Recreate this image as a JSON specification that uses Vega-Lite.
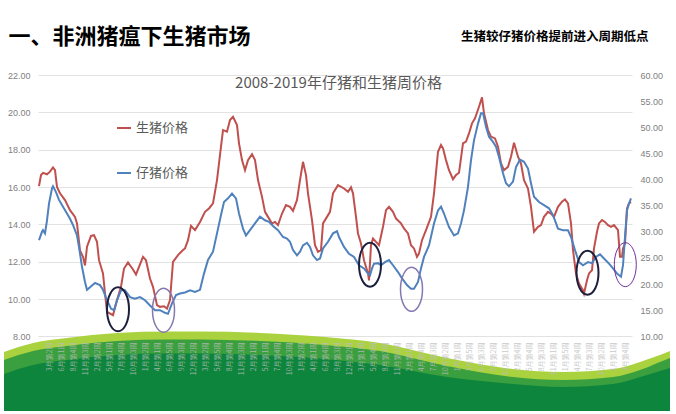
{
  "$schema": "https://vega.github.io/schema/vega-lite/v6.json",
  "width": 594,
  "height": 336,
  "autosize": "none",
  "padding": {"left": 38, "top": 75, "right": 44, "bottom": 3},
  "background": "white",
  "config": {"view": {"stroke": null}, "font": "Noto Sans CJK SC"},
  "datasets": {
    "hog": [
      {"周":1,"价格":16.05},{"周":3,"价格":16.64},{"周":5,"价格":16.76},{"周":9,"价格":16.68},{"周":12,"价格":16.82},{"周":15,"价格":17.05},{"周":17,"价格":16.9},{"周":19,"价格":16.0},{"周":22,"价格":15.66},{"周":27,"价格":15.3},
      {"周":32,"价格":14.76},{"周":37,"价格":14.4},{"周":39,"价格":14.05},{"周":42,"价格":12.6},{"周":45,"价格":12.26},{"周":47,"价格":11.8},{"周":49,"价格":12.8},{"周":53,"价格":13.38},{"周":56,"价格":13.42},{"周":59,"价格":13.06},
      {"周":61,"价格":12.08},{"周":65,"价格":11.37},{"周":67,"价格":10.3},{"周":69,"价格":9.31},{"周":75,"价格":9.13},{"周":79,"价格":9.94},{"周":83,"价格":10.65},{"周":86,"价格":11.63},{"周":90,"价格":11.96},{"周":95,"价格":11.58},
      {"周":98,"价格":11.31},{"周":101,"价格":11.72},{"周":105,"价格":12.26},{"周":108,"价格":12.08},{"周":112,"价格":11.1},{"周":115,"价格":10.65},{"周":119,"价格":9.67},{"周":122,"价格":9.58},{"周":126,"价格":9.61},{"周":129,"价格":9.49},
      {"周":132,"价格":9.94},{"周":135,"价格":11.99},{"周":140,"价格":12.35},{"周":145,"价格":12.62},{"周":147,"价格":12.71},{"周":150,"价格":13.15},{"周":153,"价格":13.92},{"周":157,"价格":13.69},{"周":162,"价格":14.13},{"周":167,"价格":14.67},
      {"周":171,"价格":14.85},{"周":175,"价格":15.12},{"周":179,"价格":16.37},{"周":183,"价格":18.16},{"周":185,"价格":19.05},{"周":189,"价格":18.96},{"周":192,"价格":19.59},{"周":195,"价格":19.76},{"周":199,"价格":19.32},{"周":201,"价格":18.34},
      {"周":204,"价格":17.44},{"周":207,"价格":16.9},{"周":210,"价格":17.44},{"周":214,"价格":17.76},{"周":217,"价格":17.44},{"周":220,"价格":16.37},{"周":224,"价格":15.47},{"周":227,"价格":14.67},{"周":230,"价格":14.4},{"周":234,"价格":14.05},
      {"周":237,"价格":14.13},{"周":240,"价格":13.96},{"周":244,"价格":14.58},{"周":248,"价格":15.03},{"周":252,"价格":14.94},{"周":255,"价格":14.72},{"周":259,"价格":15.3},{"周":262,"价格":16.37},{"周":265,"价格":17.35},{"周":268,"价格":16.64},
      {"周":270,"价格":15.66},{"周":274,"价格":14.23},{"周":277,"价格":12.88},{"周":280,"价格":12.53},{"周":283,"价格":12.62},{"周":285,"价格":14.05},{"周":289,"价格":14.4},{"周":292,"价格":14.67},{"周":295,"价格":15.66},{"周":300,"价格":16.1},
      {"周":306,"价格":15.92},{"周":310,"价格":15.74},{"周":313,"价格":15.98},{"周":315,"价格":15.66},{"周":318,"价格":14.4},{"周":320,"价格":13.51},{"周":323,"价格":12.97},{"周":326,"价格":12.08},{"周":330,"价格":11.37},{"周":331,"价格":11.0},
      {"周":333,"价格":12.88},{"周":335,"价格":13.24},{"周":338,"价格":13.06},{"周":341,"价格":12.88},{"周":345,"价格":13.87},{"周":348,"价格":14.76},{"周":351,"价格":14.94},{"周":355,"价格":14.67},{"周":358,"价格":14.31},{"周":363,"价格":14.05},
      {"周":366,"价格":13.78},{"周":370,"价格":13.51},{"周":373,"价格":12.88},{"周":376,"价格":12.71},{"周":379,"价格":12.26},{"周":381,"价格":12.44},{"周":384,"价格":13.15},{"周":388,"价格":13.69},{"周":393,"价格":14.4},{"周":396,"价格":15.66},
      {"周":400,"价格":17.89},{"周":403,"价格":18.25},{"周":405,"价格":18.07},{"周":408,"价格":17.44},{"周":411,"价格":16.9},{"周":415,"价格":16.42},{"周":418,"价格":16.64},{"周":421,"价格":16.76},{"周":425,"价格":18.34},{"周":428,"价格":18.43},
      {"周":431,"价格":18.87},{"周":434,"价格":19.41},{"周":437,"价格":19.68},{"周":441,"价格":20.3},{"周":444,"价格":20.8},{"周":446,"价格":19.95},{"周":450,"价格":19.05},{"周":453,"价格":18.7},{"周":457,"价格":18.6},{"周":460,"价格":18.16},
      {"周":463,"价格":17.26},{"周":466,"价格":16.9},{"周":470,"价格":17.08},{"周":473,"价格":17.62},{"周":476,"价格":18.37},{"周":480,"价格":17.62},{"周":483,"价格":17.26},{"周":486,"价格":16.37},{"周":490,"价格":15.92},{"周":493,"价格":14.94},
      {"周":496,"价格":13.6},{"周":500,"价格":13.87},{"周":503,"价格":13.96},{"周":506,"价格":14.4},{"周":510,"价格":14.67},{"周":513,"价格":14.58},{"周":516,"价格":14.4},{"周":520,"价格":14.94},{"周":524,"价格":15.21},{"周":527,"价格":15.34},
      {"周":530,"价格":15.12},{"周":533,"价格":14.05},{"周":535,"价格":12.62},{"周":538,"价格":11.37},{"周":541,"价格":10.83},{"周":545,"价格":10.47},{"周":546,"价格":10.29},{"周":549,"价格":11.0},{"周":551,"价格":11.37},{"周":554,"价格":11.54},
      {"周":556,"价格":12.71},{"周":559,"价格":13.6},{"周":561,"价格":14.05},{"周":564,"价格":14.23},{"周":567,"价格":14.13},{"周":570,"价格":13.96},{"周":573,"价格":13.87},{"周":576,"价格":13.96},{"周":580,"价格":13.69},{"周":582,"价格":12.26},
      {"周":584,"价格":12.26},{"周":585,"价格":12.71},{"周":587,"价格":12.97},{"周":589,"价格":14.85},{"周":591,"价格":15.12},{"周":593,"价格":15.21}
    ],
    "piglet": [
      {"周":1,"价格":28.4},{"周":4,"价格":30.0},{"周":5,"价格":30.3},{"周":7,"价格":29.7},{"周":9,"价格":32.2},{"周":11,"价格":35.4},{"周":14,"价格":38.3},{"周":15,"价格":38.7},{"周":18,"价格":37.6},{"周":21,"价格":36.1},
      {"周":25,"价格":34.8},{"周":29,"价格":33.5},{"周":32,"价格":32.5},{"周":35,"价格":31.3},{"周":39,"价格":29.3},{"周":41,"价格":27.1},{"周":44,"价格":23.3},{"周":47,"价格":20.4},{"周":49,"价格":18.9},{"周":52,"价格":19.4},
      {"周":57,"价格":20.2},{"周":62,"价格":19.8},{"周":65,"价格":18.9},{"周":69,"价格":16.9},{"周":73,"价格":15.3},{"周":76,"价格":15.0},{"周":79,"价格":16.9},{"周":83,"价格":18.8},{"周":87,"价格":18.8},{"周":92,"价格":17.5},
      {"周":97,"价格":17.2},{"周":102,"价格":17.5},{"周":107,"价格":16.9},{"周":112,"价格":15.9},{"周":117,"价格":15.0},{"周":122,"价格":15.0},{"周":127,"价格":14.5},{"周":130,"价格":14.3},{"周":134,"价格":16.3},{"周":138,"价格":17.9},
      {"周":142,"价格":18.2},{"周":147,"价格":18.4},{"周":152,"价格":18.8},{"周":157,"价格":18.5},{"周":162,"价格":18.9},{"周":166,"价格":22.0},{"周":170,"价格":24.6},{"周":175,"价格":26.2},{"周":179,"价格":29.7},{"周":183,"价格":33.2},
      {"周":186,"价格":35.7},{"周":190,"价格":36.4},{"周":194,"价格":37.3},{"周":198,"价格":36.4},{"周":201,"价格":33.5},{"周":205,"价格":30.6},{"周":208,"价格":29.3},{"周":212,"价格":30.3},{"周":217,"价格":31.6},{"周":222,"价格":32.9},
      {"周":227,"价格":32.2},{"周":231,"价格":31.9},{"周":235,"价格":31.1},{"周":240,"价格":30.3},{"周":245,"价格":29.0},{"周":249,"价格":28.7},{"周":252,"价格":28.1},{"周":255,"价格":26.5},{"周":259,"价格":25.5},{"周":262,"价格":26.2},
      {"周":265,"价格":27.4},{"周":269,"价格":27.9},{"周":272,"价格":27.1},{"周":275,"价格":25.5},{"周":279,"价格":24.6},{"周":282,"价格":24.9},{"周":285,"价格":26.8},{"周":290,"价格":28.1},{"周":295,"价格":29.7},{"周":299,"价格":30.1},
      {"周":301,"价格":29.0},{"周":306,"价格":27.1},{"周":311,"价格":25.8},{"周":316,"价格":25.2},{"周":321,"价格":23.6},{"周":326,"价格":23.0},{"周":330,"价格":22.0},{"周":332,"价格":21.7},{"周":334,"价格":23.0},{"周":336,"价格":23.9},
      {"周":340,"价格":24.0},{"周":343,"价格":23.6},{"周":347,"价格":24.2},{"周":351,"价格":24.6},{"周":355,"价格":23.6},{"周":360,"价格":22.3},{"周":364,"价格":21.1},{"周":369,"价格":19.8},{"周":373,"价格":19.1},{"周":376,"价格":19.1},
      {"周":380,"价格":20.4},{"周":383,"价格":23.0},{"周":386,"价格":25.2},{"周":391,"价格":27.4},{"周":396,"价格":31.6},{"周":400,"价格":34.1},{"周":403,"价格":34.8},{"周":406,"价格":33.5},{"周":411,"价格":30.9},{"周":416,"价格":29.3},
      {"周":420,"价格":29.7},{"周":423,"价格":31.6},{"周":426,"价格":34.1},{"周":430,"价格":38.6},{"周":433,"价格":43.7},{"周":436,"价格":47.5},{"周":440,"价格":50.7},{"周":443,"价格":52.7},{"周":445,"价格":52.7},{"周":448,"价格":50.1},
      {"周":451,"价格":48.2},{"周":455,"价格":47.2},{"周":458,"价格":46.3},{"周":461,"价格":44.3},{"周":465,"价格":41.2},{"周":468,"价格":39.3},{"周":471,"价格":38.7},{"周":475,"价格":39.6},{"周":478,"价格":42.4},{"周":482,"价格":43.8},
      {"周":486,"价格":43.4},{"周":490,"价格":42.1},{"周":493,"价格":39.3},{"周":496,"价格":36.7},{"周":501,"价格":35.7},{"周":506,"价格":35.1},{"周":511,"价格":34.5},{"周":515,"价格":33.2},{"周":520,"价格":30.6},{"周":525,"价格":30.3},
      {"周":530,"价格":30.3},{"周":533,"价格":29.0},{"周":537,"价格":26.5},{"周":541,"价格":24.2},{"周":545,"价格":23.6},{"周":550,"价格":24.2},{"周":554,"价格":24.0},{"周":558,"价格":25.2},{"周":562,"价格":25.7},{"周":566,"价格":24.9},
      {"周":571,"价格":23.9},{"周":575,"价格":23.0},{"周":579,"价格":22.0},{"周":583,"价格":21.4},{"周":585,"价格":23.6},{"周":587,"价格":29.0},{"周":589,"价格":34.1},{"周":591,"价格":35.4},{"周":593,"价格":36.4}
    ],
    "wave": [
      {"层":"A","周":-34,"高":7.16},{"层":"A","周":-5,"高":7.64},{"层":"A","周":29,"高":7.91},{"层":"A","周":79,"高":8.18},{"层":"A","周":129,"高":8.26},{"层":"A","周":162,"高":8.26},{"层":"A","周":222,"高":8.18},{"层":"A","周":287,"高":7.96},
      {"层":"A","周":342,"高":7.64},{"层":"A","周":409,"高":6.84},{"层":"A","周":475,"高":6.25},{"层":"A","周":525,"高":6.09},{"层":"A","周":575,"高":6.25},{"层":"A","周":602,"高":6.63},{"层":"A","周":622,"高":7.0},{"层":"A","周":632,"高":7.21},
      {"层":"B","周":-34,"高":6.73},{"层":"B","周":-5,"高":7.21},{"层":"B","周":29,"高":7.48},{"层":"B","周":79,"高":7.75},{"层":"B","周":129,"高":7.83},{"层":"B","周":162,"高":7.83},{"层":"B","周":222,"高":7.75},{"层":"B","周":287,"高":7.54},
      {"层":"B","周":342,"高":7.21},{"层":"B","周":409,"高":6.41},{"层":"B","周":475,"高":5.82},{"层":"B","周":525,"高":5.66},{"层":"B","周":575,"高":5.82},{"层":"B","周":602,"高":6.2},{"层":"B","周":622,"高":6.63},{"层":"B","周":632,"高":6.84},
      {"层":"C","周":-34,"高":5.98},{"层":"C","周":-5,"高":6.46},{"层":"C","周":29,"高":6.73},{"层":"C","周":79,"高":7.0},{"层":"C","周":129,"高":7.08},{"层":"C","周":162,"高":7.08},{"层":"C","周":222,"高":7.0},{"层":"C","周":287,"高":6.79},
      {"层":"C","周":342,"高":6.46},{"层":"C","周":409,"高":5.82},{"层":"C","周":475,"高":5.45},{"层":"C","周":525,"高":5.29},{"层":"C","周":575,"高":5.45},{"层":"C","周":609,"高":5.93},{"层":"C","周":632,"高":6.3}
    ],
    "marks": [
      {"周":80,"价格":9.45,"类":"黑"},
      {"周":125.5,"价格":9.4,"类":"浅紫"},
      {"周":332,"价格":11.84,"类":"黑"},
      {"周":373.5,"价格":10.52,"类":"浅紫"},
      {"周":549.5,"价格":11.41,"类":"黑"},
      {"周":587.3,"价格":11.84,"类":"深紫"}
    ]
  },
  "encoding": {
    "x": {
      "field": "周",
      "type": "quantitative",
      "scale": {"domain": [0, 594], "nice": false, "zero": false},
      "axis": {
        "values": [11,23,35,47,59,71,83,95,107,119,131,143,155,167,179,191,203,215,227,239,251,263,275,287,299,311,323,335,347,359,371,383,395,407,419,431,443,455,467,479,491,503,515,527,539,551,563,575,587],
        "labelExpr": "(month(datetime(2008,0,datum.value*7-6))+1) + '月第' + (floor((date(datetime(2008,0,datum.value*7-6))-1)/7)+1) + '周'",
        "labelAngle": 270,
        "labelFontSize": 7,
        "labelColor": "#bdbdbd",
        "labelOpacity": 0.85,
        "labelPadding": 6,
        "labelOverlap": false,
        "labelBound": false,
        "labelFlush": false,
        "domain": false,
        "ticks": false,
        "tickSize": 0,
        "grid": false,
        "offset": -75,
        "zindex": 1,
        "title": "2008-2019年仔猪和生猪周价格",
        "titleX": 300,
        "titleY": -254,
        "titleAlign": "center",
        "titleBaseline": "middle",
        "titleFontSize": 15,
        "titleFontWeight": "normal",
        "titleColor": "#595959"
      }
    }
  },
  "layer": [
    {
      "data": {"name": "wave"},
      "transform": [{"filter": "datum['层'] == 'A'"}],
      "mark": {"type": "area", "orient": "vertical", "interpolate": "monotone", "color": "#aad23f", "clip": false},
      "encoding": {
        "y": {"field": "高", "type": "quantitative", "scale": {"domain": [4, 22], "nice": false, "zero": false}, "axis": null},
        "y2": {"datum": 4}
      }
    },
    {
      "data": {"name": "wave"},
      "transform": [{"filter": "datum['层'] == 'B'"}],
      "mark": {"type": "area", "orient": "vertical", "interpolate": "monotone", "color": "#3a9f3e", "clip": false},
      "encoding": {
        "y": {"field": "高", "type": "quantitative", "scale": {"domain": [4, 22], "nice": false, "zero": false}, "axis": null},
        "y2": {"datum": 4}
      }
    },
    {
      "data": {"name": "wave"},
      "transform": [{"filter": "datum['层'] == 'C'"}],
      "mark": {"type": "area", "orient": "vertical", "interpolate": "monotone", "color": "#0e853c", "clip": false},
      "encoding": {
        "y": {"field": "高", "type": "quantitative", "scale": {"domain": [4, 22], "nice": false, "zero": false}, "axis": null},
        "y2": {"datum": 4}
      }
    },
    {
      "data": {"name": "hog"},
      "mark": {"type": "line", "strokeWidth": 2},
      "encoding": {
        "y": {
          "field": "价格",
          "type": "quantitative",
          "scale": {"domain": [4, 22], "nice": false, "zero": false},
          "axis": {
            "values": [8, 10, 12, 14, 16, 18, 20, 22],
            "format": ".2f",
            "grid": true,
            "gridColor": "#e2e2e2",
            "domain": false,
            "ticks": false,
            "tickSize": 0,
            "labelPadding": 8,
            "labelFontSize": 9,
            "labelFont": "Liberation Sans",
            "labelColor": "#808080",
            "title": "一、非洲猪瘟下生猪市场",
            "titleAngle": 0,
            "titleX": -30,
            "titleY": -39,
            "titleAlign": "left",
            "titleBaseline": "middle",
            "titleFontSize": 22,
            "titleFontWeight": "bold",
            "titleColor": "#000000"
          }
        },
        "color": {
          "datum": "生猪价格",
          "scale": {"domain": ["生猪价格", "仔猪价格"], "range": ["#c0504d", "#4f81bd"]},
          "legend": {
            "orient": "none",
            "legendX": 78,
            "legendY": 45,
            "title": null,
            "direction": "vertical",
            "symbolType": "stroke",
            "symbolSize": 196,
            "symbolStrokeWidth": 2,
            "labelFontSize": 13,
            "labelColor": "#595959",
            "labelOffset": 4,
            "rowPadding": 30,
            "padding": 0
          }
        }
      }
    },
    {
      "data": {"name": "piglet"},
      "mark": {"type": "line", "strokeWidth": 2},
      "encoding": {
        "y": {
          "field": "价格",
          "type": "quantitative",
          "scale": {"domain": [-4.2857142857, 60], "nice": false, "zero": false},
          "axis": {
            "orient": "right",
            "values": [10, 15, 20, 25, 30, 35, 40, 45, 50, 55, 60],
            "format": ".2f",
            "grid": false,
            "domain": false,
            "ticks": false,
            "tickSize": 0,
            "labelPadding": 8,
            "labelFontSize": 9,
            "labelFont": "Liberation Sans",
            "labelColor": "#808080",
            "title": "生猪较仔猪价格提前进入周期低点",
            "titleAngle": 0,
            "titleX": 16,
            "titleY": -39,
            "titleAlign": "right",
            "titleBaseline": "middle",
            "titleFontSize": 12.5,
            "titleFontWeight": "bold",
            "titleColor": "#000000"
          }
        },
        "color": {"datum": "仔猪价格"}
      }
    },
    {
      "data": {"name": "marks"},
      "mark": {"type": "point", "filled": false, "size": 1936, "opacity": 1, "shape": "M-0.5,0A0.5,1 0 1,1 0.5,0A0.5,1 0 1,1 -0.5,0Z"},
      "encoding": {
        "y": {"field": "价格", "type": "quantitative", "scale": {"domain": [4, 22], "nice": false, "zero": false}, "axis": null},
        "stroke": {"field": "类", "type": "nominal", "scale": {"domain": ["黑", "浅紫", "深紫"], "range": ["#1d1f3e", "#8577b0", "#7030a0"]}, "legend": null},
        "strokeWidth": {"field": "类", "type": "ordinal", "scale": {"domain": ["黑", "浅紫", "深紫"], "range": [2, 1, 2]}, "legend": null}
      }
    }
  ],
  "resolve": {"scale": {"y": "independent"}}
}
